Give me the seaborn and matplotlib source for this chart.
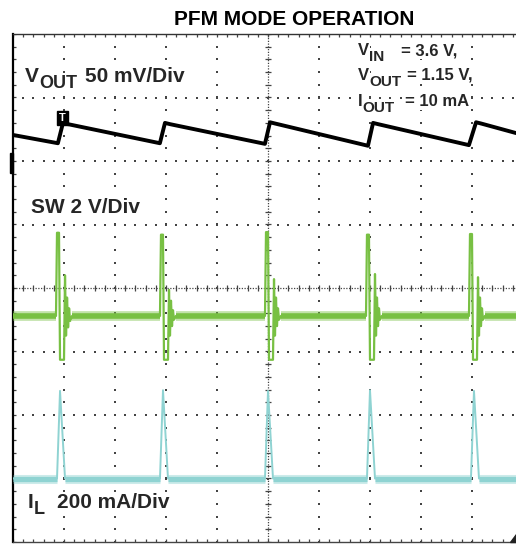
import numpy as np
import pandas as pd
import matplotlib
matplotlib.use("Agg")
import matplotlib.pyplot as plt
from matplotlib.patches import Rectangle, Polygon
import seaborn as sns

# ---------------- data (scope divisions: x 0..9.86, y -4..4) ----------------
title = "PFM MODE OPERATION"
# (main, subscript, rest)
label_vout = ("V", "OUT", "50 mV/Div")
label_sw = "SW 2 V/Div"
label_il = ("I", "L", "200 mA/Div")
cond_lines = [("V", "IN", "= 3.6 V,"),
              ("V", "OUT", "= 1.15 V,"),
              ("I", "OUT", "= 10 mA")]

x_end = 9.863

vout_x = [0.0, 0.88, 0.98, 1.08, 2.88, 2.98, 3.08, 4.94, 5.04, 5.14, 6.96, 7.06, 7.16, 8.94, 9.08, 9.18, 9.863]
vout_y = [2.41, 2.28, 2.60, 2.58, 2.28, 2.60, 2.58, 2.27, 2.61, 2.59, 2.24, 2.60, 2.58, 2.25, 2.61, 2.59, 2.44]

sw_base = -0.44
sw_pulse_x = [
    [0.843, 0.863, 0.902, 0.922, 1.000, 1.020, 1.040, 1.060, 1.080, 1.100, 1.120, 1.160],
    [2.882, 2.902, 2.941, 2.961, 3.039, 3.059, 3.078, 3.098, 3.118, 3.137, 3.157, 3.196],
    [4.941, 4.961, 5.000, 5.020, 5.098, 5.118, 5.137, 5.157, 5.176, 5.196, 5.216, 5.255],
    [6.922, 6.941, 6.980, 7.000, 7.078, 7.098, 7.118, 7.137, 7.157, 7.176, 7.196, 7.235],
    [8.941, 8.961, 9.000, 9.020, 9.098, 9.118, 9.137, 9.157, 9.176, 9.196, 9.216, 9.255],
]
sw_pulse_y = [
    [-0.44, 0.87, 0.87, -1.13, -1.13, 0.20, -0.75, -0.15, -0.62, -0.32, -0.52, -0.44],
    [-0.44, 0.84, 0.84, -1.13, -1.13, -0.03, -0.75, -0.20, -0.60, -0.35, -0.50, -0.44],
    [-0.44, 0.88, 0.88, -1.13, -1.13, 0.14, -0.75, -0.15, -0.60, -0.32, -0.50, -0.44],
    [-0.44, 0.84, 0.84, -1.13, -1.13, 0.22, -0.75, -0.15, -0.60, -0.32, -0.50, -0.44],
    [-0.44, 0.85, 0.85, -1.13, -1.13, 0.17, -0.75, -0.15, -0.60, -0.32, -0.50, -0.44],
]

il_base = -3.0
il_pulse_x = [
    [0.863, 0.922, 1.020],
    [2.882, 2.941, 3.039],
    [4.941, 5.000, 5.098],
    [6.941, 7.000, 7.098],
    [8.980, 9.039, 9.137],
]
il_pulse_y = [
    [-3.0, -1.62, -3.0],
    [-3.0, -1.61, -3.0],
    [-3.0, -1.62, -3.0],
    [-3.0, -1.61, -3.0],
    [-3.0, -1.62, -3.0],
]

# ---------------- style ----------------
sns.set_style("white")
plt.rcParams["font.family"] = ["Liberation Sans", "DejaVu Sans"]

W, H = 516, 544
fig = plt.figure(figsize=(W / 100, H / 100), dpi=100)
ax = fig.add_axes([13 / W, 2 / H, (W - 13) / W, 508 / H])
ax.set_xlim(0, x_end)
ax.set_ylim(-4, 4)
ax.set_xticks([])
ax.set_yticks([])
ax.spines["right"].set_visible(False)
ax.spines["left"].set_color("black")
ax.spines["left"].set_linewidth(1.6)
ax.spines["top"].set_color("#333333")
ax.spines["top"].set_linewidth(1.0)
ax.spines["bottom"].set_color("#444444")
ax.spines["bottom"].set_linewidth(1.0)

dot_c = "#444444"
px_x = x_end / (W - 13)   # div per pixel in x
px_y = 8 / 508            # div per pixel in y

xs_fine = np.arange(0, x_end + 1e-6, 0.2)
ys_fine = np.arange(-4, 4 + 1e-6, 0.2)

# dotted graticule
for gx in range(1, 10):
    if gx == 5:
        continue
    ax.scatter(np.full_like(ys_fine, gx), ys_fine, s=2.0, marker="s",
               color=dot_c, linewidths=0, zorder=1)
for gy in [-3, -2, -1, 1, 2, 3]:
    ax.scatter(xs_fine, np.full_like(xs_fine, gy), s=2.0, marker="s",
               color=dot_c, linewidths=0, zorder=1)

# center lines (dense dots + ticks)
ax.axvline(5, color=dot_c, lw=0.9, ls=(0, (1, 1.2)), zorder=1)
ax.axhline(0, color=dot_c, lw=0.9, ls=(0, (1, 1.2)), zorder=1)
ax.hlines(ys_fine, 5 - 3 * px_x, 5 + 3 * px_x, color=dot_c, lw=0.9, zorder=1)
ax.vlines(xs_fine, -3 * px_y, 3 * px_y, color=dot_c, lw=0.9, zorder=1)

# border ticks
ax.vlines(xs_fine, 4 - 3 * px_y, 4, color=dot_c, lw=0.9, zorder=1)
ax.vlines(xs_fine, -4, -4 + 3 * px_y, color=dot_c, lw=0.9, zorder=1)
ax.hlines(ys_fine, 0, 3 * px_x, color=dot_c, lw=0.9, zorder=1)

green = "#78c043"
cyan = "#8fd3d2"

# ----- SW trace -----
sw_x = [0.0] + [v for p in sw_pulse_x for v in p] + [x_end]
sw_y = [sw_base] + [v for p in sw_pulse_y for v in p] + [sw_base]
seg_starts = [0.0] + [p[-1] for p in sw_pulse_x]
seg_ends = [p[0] for p in sw_pulse_x] + [x_end]
for a, b in zip(seg_starts, seg_ends):
    ax.plot([a, b], [sw_base, sw_base], color=green, lw=7.0, alpha=0.45,
            solid_capstyle="butt", zorder=3)
    ax.plot([a, b], [sw_base, sw_base], color=green, lw=4.0,
            solid_capstyle="butt", zorder=3)
sns.lineplot(x=sw_x, y=sw_y, sort=False, estimator=None, color=green,
             lw=1.6, ax=ax, zorder=4)

# ----- IL trace -----
il_x = [0.0] + [v for p in il_pulse_x for v in p] + [x_end]
il_y = [il_base] + [v for p in il_pulse_y for v in p] + [il_base]
seg_starts = [0.0] + [p[-1] for p in il_pulse_x]
seg_ends = [p[0] for p in il_pulse_x] + [x_end]
for a, b in zip(seg_starts, seg_ends):
    ax.plot([a, b], [il_base, il_base], color=cyan, lw=6.5, alpha=0.45,
            solid_capstyle="butt", zorder=3)
    ax.plot([a, b], [il_base, il_base], color=cyan, lw=3.8,
            solid_capstyle="butt", zorder=3)
sns.lineplot(x=il_x, y=il_y, sort=False, estimator=None, color=cyan,
             lw=1.4, ax=ax, zorder=4)

# ----- VOUT trace -----
sns.lineplot(x=vout_x, y=vout_y, sort=False, estimator=None, color="black",
             lw=2.8, ax=ax, zorder=5)

# trigger marker
ax.text(0.97, 2.67, "T", color="white", fontsize=8, fontweight="bold",
        ha="center", va="center", zorder=6,
        bbox=dict(boxstyle="square,pad=0.18", fc="black", ec="black"))

# channel ground marker on the left
ax.add_patch(Rectangle((-3 * px_x, (288 - 173) / 63.5), 3 * px_x, 20 / 63.5,
                       color="black", clip_on=False, zorder=6))
# small marker bottom right
fig.patches.append(Polygon([[(W - 6) / W, 2 / H], [W / W, 2 / H], [W / W, 10 / H]],
                           closed=True, color="#222222", transform=fig.transFigure,
                           figure=fig))

# ----- texts -----
txt_c = "#262626"
renderer = fig.canvas.get_renderer()
bg = dict(boxstyle="square,pad=0.05", fc="white", ec="none")


def sub_label(x_px, y_px, parts, size, subsize, drop, rest_x):
    main, sub, rest = parts
    t1 = fig.text(x_px / W, 1 - y_px / H, main, ha="left", va="baseline",
                  fontsize=size, fontweight="bold", color=txt_c, bbox=bg, zorder=5)
    bb = t1.get_window_extent(renderer)
    t2 = fig.text(bb.x1 / W, 1 - (y_px + drop) / H, sub, ha="left", va="baseline",
                  fontsize=subsize, fontweight="bold", color=txt_c, bbox=bg, zorder=5)
    fig.text(rest_x / W, 1 - y_px / H, rest, ha="left", va="baseline",
             fontsize=size, fontweight="bold", color=txt_c, bbox=bg, zorder=5)


fig.text(294 / W, 1 - 25 / H, title, ha="center", va="baseline",
         fontsize=15, fontweight="bold", color="black")
sub_label(25, 82, label_vout, 15, 13, 6, 85)
fig.text(31 / W, 1 - 213 / H, label_sw, ha="left", va="baseline",
         fontsize=15, fontweight="bold", color=txt_c, bbox=bg, zorder=5)
sub_label(28, 508, label_il, 15, 13, 6, 57)
for yb, parts, rx in zip([55, 80, 106], cond_lines, [401, 407, 405]):
    sub_label(358, yb, parts, 12, 11, 6, rx)

fig.savefig("out.png", dpi=100)
